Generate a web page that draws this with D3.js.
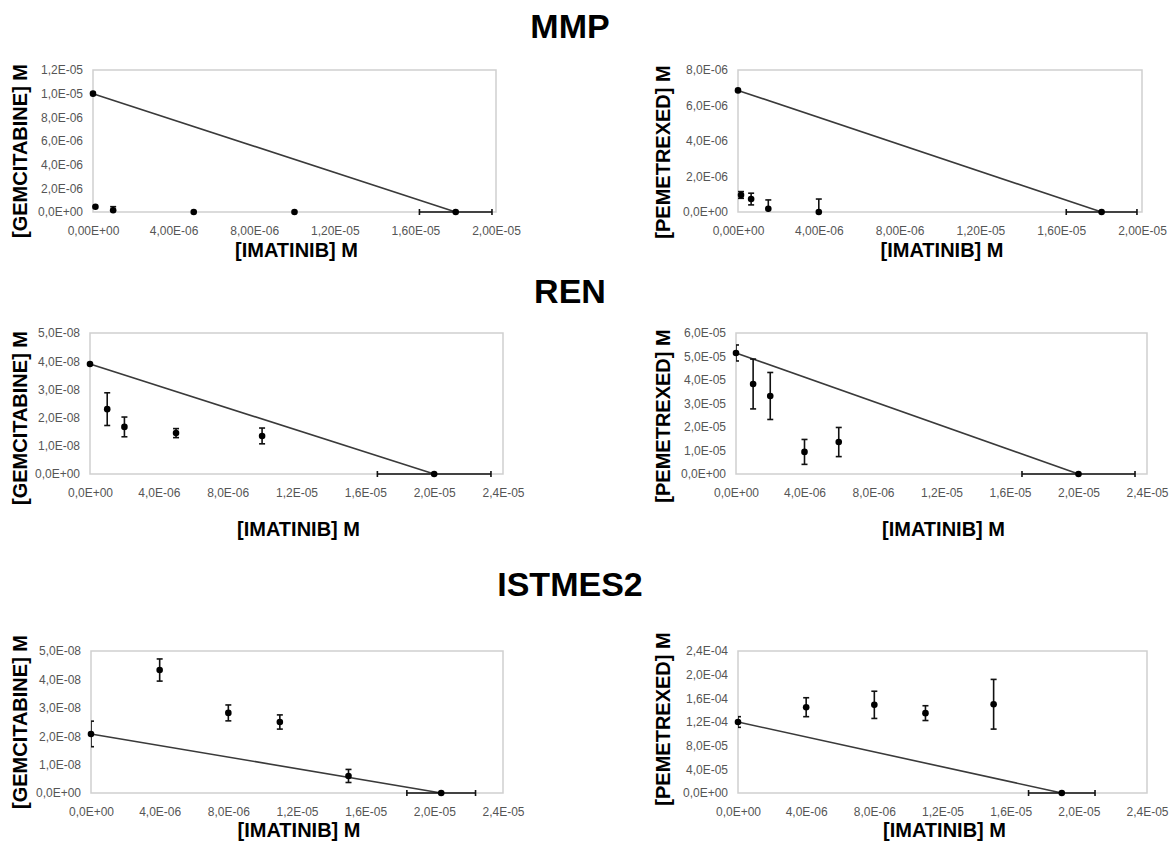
<!DOCTYPE html>
<html>
<head>
<meta charset="utf-8">
<script src="https://cdn.jsdelivr.net/npm/d3@7"></script>
<style>
  body { margin: 0; background: #fff; }
  text { font-family: Arial, "Liberation Sans", sans-serif; }
</style>
</head>
<body>
<div id="chart"></div>
<script>
// row titles
const rowTitles = ["MMP", "REN", "ISTMES2"];
const xTitle = "[IMATINIB] M";
const yTitleGem = "[GEMCITABINE] M";
const yTitlePem = "[PEMETREXED] M";

// x axis ticks
const xTicksMMP = [0, 4e-6, 8e-6, 1.2e-5, 1.6e-5, 2e-5];
const xLabelsMMP = ["0,00E+00", "4,00E-06", "8,00E-06", "1,20E-05", "1,60E-05", "2,00E-05"];
const xTicksWide = [0, 4e-6, 8e-6, 1.2e-5, 1.6e-5, 2e-5, 2.4e-5];
const xLabelsWide = ["0,0E+00", "4,0E-06", "8,0E-06", "1,2E-05", "1,6E-05", "2,0E-05", "2,4E-05"];

// MMP - gemcitabine
const mmpGemYTicks = [0, 2e-6, 4e-6, 6e-6, 8e-6, 1e-5, 1.2e-5];
const mmpGemYLabels = ["0,0E+00", "2,0E-06", "4,0E-06", "6,0E-06", "8,0E-06", "1,0E-05", "1,2E-05"];
const mmpGemX = [1.2e-7, 1e-6, 5e-6, 1e-5];
const mmpGemY = [4.5e-7, 1.5e-7, 0, 0];
const mmpGemErr = [0, 3e-7, 0, 0];
const mmpGemIsoX = [0, 1.8e-5], mmpGemIsoY = [1e-5, 0];
const mmpGemIsoXErr = [0, 1.8e-6], mmpGemIsoYErr = [0, 0];

// MMP - pemetrexed
const mmpPemYTicks = [0, 2e-6, 4e-6, 6e-6, 8e-6];
const mmpPemYLabels = ["0,0E+00", "2,0E-06", "4,0E-06", "6,0E-06", "8,0E-06"];
const mmpPemX = [1.5e-7, 6.5e-7, 1.5e-6, 4e-6];
const mmpPemY = [9.6e-7, 7.3e-7, 1.8e-7, 0];
const mmpPemErr = [1.9e-7, 3.3e-7, 5e-7, 7.3e-7];
const mmpPemIsoX = [0, 1.8e-5], mmpPemIsoY = [6.85e-6, 0];
const mmpPemIsoXErr = [0, 1.75e-6], mmpPemIsoYErr = [0, 0];

// REN - gemcitabine
const renGemYTicks = [0, 1e-8, 2e-8, 3e-8, 4e-8, 5e-8];
const renGemYLabels = ["0,0E+00", "1,0E-08", "2,0E-08", "3,0E-08", "4,0E-08", "5,0E-08"];
const renGemX = [1e-6, 2e-6, 5e-6, 1e-5];
const renGemY = [2.3e-8, 1.67e-8, 1.45e-8, 1.35e-8];
const renGemErr = [5.8e-9, 3.5e-9, 1.6e-9, 2.8e-9];
const renGemIsoX = [0, 2e-5], renGemIsoY = [3.9e-8, 0];
const renGemIsoXErr = [0, 3.3e-6], renGemIsoYErr = [0, 0];

// REN - pemetrexed
const renPemYTicks = [0, 1e-5, 2e-5, 3e-5, 4e-5, 5e-5, 6e-5];
const renPemYLabels = ["0,0E+00", "1,0E-05", "2,0E-05", "3,0E-05", "4,0E-05", "5,0E-05", "6,0E-05"];
const renPemX = [1e-6, 2e-6, 4e-6, 6e-6];
const renPemY = [3.83e-5, 3.32e-5, 9.4e-6, 1.36e-5];
const renPemErr = [1.06e-5, 1e-5, 5.3e-6, 6.2e-6];
const renPemIsoX = [0, 2e-5], renPemIsoY = [5.15e-5, 0];
const renPemIsoXErr = [0, 3.3e-6], renPemIsoYErr = [3.4e-6, 0];

// ISTMES2 - gemcitabine
const istGemYTicks = [0, 1e-8, 2e-8, 3e-8, 4e-8, 5e-8];
const istGemYLabels = ["0,0E+00", "1,0E-08", "2,0E-08", "3,0E-08", "4,0E-08", "5,0E-08"];
const istGemX = [4e-6, 8e-6, 1.1e-5, 1.5e-5];
const istGemY = [4.33e-8, 2.82e-8, 2.5e-8, 6e-9];
const istGemErr = [3.9e-9, 2.8e-9, 2.5e-9, 2.3e-9];
const istGemIsoX = [0, 2.04e-5], istGemIsoY = [2.08e-8, 0];
const istGemIsoXErr = [0, 2e-6], istGemIsoYErr = [4.5e-9, 0];

// ISTMES2 - pemetrexed
const istPemYTicks = [0, 4e-5, 8e-5, 1.2e-4, 1.6e-4, 2e-4, 2.4e-4];
const istPemYLabels = ["0,0E+00", "4,0E-05", "8,0E-05", "1,2E-04", "1,6E-04", "2,0E-04", "2,4E-04"];
const istPemX = [4e-6, 8e-6, 1.1e-5, 1.5e-5];
const istPemY = [1.45e-4, 1.49e-4, 1.35e-4, 1.5e-4];
const istPemErr = [1.6e-5, 2.3e-5, 1.25e-5, 4.2e-5];
const istPemIsoX = [0, 1.9e-5], istPemIsoY = [1.2e-4, 0];
const istPemIsoXErr = [0, 1.95e-6], istPemIsoYErr = [9e-6, 0];

// ---------------------------------------------------------------
const W = 1170, H = 850;

const svg = d3.select("#chart")
  .append("svg")
  .attr("width", W)
  .attr("height", H);

// row titles
const rowTitleY = [26, 291, 584];
svg.selectAll(".row-title")
  .data(rowTitles)
  .join("text")
  .attr("class", "row-title")
  .attr("x", 570)
  .attr("y", (d, i) => rowTitleY[i])
  .attr("dy", "0.35em")
  .attr("text-anchor", "middle")
  .style("font-size", "34px")
  .style("font-weight", "bold")
  .text(d => d);

// panel layout + data
const panels = [
  {box: [93, 496, 70, 212], xTitleY: 250, yTitle: yTitleGem, yTitleX: 20, yTitleY: 151,
   xMax: 2e-5, xTicks: xTicksMMP, xLabels: xLabelsMMP, yTicks: mmpGemYTicks, yLabels: mmpGemYLabels,
   px: mmpGemX, py: mmpGemY, pe: mmpGemErr, ix: mmpGemIsoX, iy: mmpGemIsoY, ixe: mmpGemIsoXErr, iye: mmpGemIsoYErr},
  {box: [738, 1142, 70, 212], xTitleY: 250, yTitle: yTitlePem, yTitleX: 663, yTitleY: 152,
   xMax: 2e-5, xTicks: xTicksMMP, xLabels: xLabelsMMP, yTicks: mmpPemYTicks, yLabels: mmpPemYLabels,
   px: mmpPemX, py: mmpPemY, pe: mmpPemErr, ix: mmpPemIsoX, iy: mmpPemIsoY, ixe: mmpPemIsoXErr, iye: mmpPemIsoYErr},
  {box: [90, 503, 333, 474], xTitleY: 529, yTitle: yTitleGem, yTitleX: 20, yTitleY: 418,
   xMax: 2.4e-5, xTicks: xTicksWide, xLabels: xLabelsWide, yTicks: renGemYTicks, yLabels: renGemYLabels,
   px: renGemX, py: renGemY, pe: renGemErr, ix: renGemIsoX, iy: renGemIsoY, ixe: renGemIsoXErr, iye: renGemIsoYErr},
  {box: [736, 1147, 333, 474], xTitleY: 529, yTitle: yTitlePem, yTitleX: 663, yTitleY: 416,
   xMax: 2.4e-5, xTicks: xTicksWide, xLabels: xLabelsWide, yTicks: renPemYTicks, yLabels: renPemYLabels,
   px: renPemX, py: renPemY, pe: renPemErr, ix: renPemIsoX, iy: renPemIsoY, ixe: renPemIsoXErr, iye: renPemIsoYErr},
  {box: [91, 503, 651, 793], xTitleY: 830, yTitle: yTitleGem, yTitleX: 20, yTitleY: 722,
   xMax: 2.4e-5, xTicks: xTicksWide, xLabels: xLabelsWide, yTicks: istGemYTicks, yLabels: istGemYLabels,
   px: istGemX, py: istGemY, pe: istGemErr, ix: istGemIsoX, iy: istGemIsoY, ixe: istGemIsoXErr, iye: istGemIsoYErr},
  {box: [738, 1147, 651, 793], xTitleY: 830, yTitle: yTitlePem, yTitleX: 663, yTitleY: 719,
   xMax: 2.4e-5, xTicks: xTicksWide, xLabels: xLabelsWide, yTicks: istPemYTicks, yLabels: istPemYLabels,
   px: istPemX, py: istPemY, pe: istPemErr, ix: istPemIsoX, iy: istPemIsoY, ixe: istPemIsoXErr, iye: istPemIsoYErr}
];

const capW = 3;

panels.forEach((p, k) => {
  const [x0, x1, y0, y1] = p.box;
  const yMax = p.yTicks[p.yTicks.length - 1];

  const x = d3.scaleLinear().domain([0, p.xMax]).range([x0, x1]);
  const y = d3.scaleLinear().domain([0, yMax]).range([y1, y0]);

  const g = svg.append("g");

  // clip for error bars
  g.append("clipPath")
    .attr("id", `clip-${k}`)
    .append("rect")
    .attr("x", x0).attr("y", y0)
    .attr("width", x1 - x0).attr("height", y1 - y0);

  // plot frame
  g.append("rect")
    .attr("x", x0).attr("y", y0)
    .attr("width", x1 - x0).attr("height", y1 - y0)
    .attr("fill", "none")
    .attr("stroke", "#cfcfcf")
    .attr("stroke-width", 1.5);

  // x axis
  const xAxis = g.append("g")
    .attr("transform", `translate(0,${y1})`)
    .call(d3.axisBottom(x)
      .tickValues(p.xTicks)
      .tickSize(0)
      .tickPadding(14)
      .tickFormat((d, i) => p.xLabels[i]));
  xAxis.select(".domain").remove();
  xAxis.selectAll("text")
    .attr("fill", "#555")
    .style("font-size", "12px")
    .style("font-family", "Arial, 'Liberation Sans', sans-serif");

  // y axis
  const yAxis = g.append("g")
    .attr("transform", `translate(${x0},0)`)
    .call(d3.axisLeft(y)
      .tickValues(p.yTicks)
      .tickSize(0)
      .tickPadding(10)
      .tickFormat((d, i) => p.yLabels[i]));
  yAxis.select(".domain").remove();
  yAxis.selectAll("text")
    .attr("fill", "#555")
    .style("font-size", "12px")
    .style("font-family", "Arial, 'Liberation Sans', sans-serif");

  // axis titles
  g.append("text")
    .attr("x", (x0 + x1) / 2 + 2)
    .attr("y", p.xTitleY)
    .attr("dy", "0.35em")
    .attr("text-anchor", "middle")
    .style("font-size", "20px")
    .style("font-weight", "bold")
    .text(xTitle);

  g.append("text")
    .attr("transform", `translate(${p.yTitleX},${p.yTitleY}) rotate(-90)`)
    .attr("dy", "0.35em")
    .attr("text-anchor", "middle")
    .style("font-size", "20px")
    .style("font-weight", "bold")
    .text(p.yTitle);

  // isobole line
  const iso = p.ix.map((v, i) => ({x: v, y: p.iy[i], xe: p.ixe[i], ye: p.iye[i]}));
  const line = d3.line().x(d => x(d.x)).y(d => y(d.y));
  g.append("path")
    .datum(iso)
    .attr("d", line)
    .attr("fill", "none")
    .attr("stroke", "#3a3a3a")
    .attr("stroke-width", 1.6);

  const pts = p.px.map((v, i) => ({x: v, y: p.py[i], xe: 0, ye: p.pe[i]}));
  const all = iso.concat(pts);

  const bars = g.append("g").attr("clip-path", `url(#clip-${k})`)
    .attr("stroke", "#111")
    .attr("stroke-width", 1.6);

  // vertical error bars
  all.filter(d => d.ye > 0).forEach(d => {
    const cx = x(d.x), ya = y(d.y + d.ye), yb = y(d.y - d.ye);
    bars.append("line").attr("x1", cx).attr("x2", cx).attr("y1", ya).attr("y2", yb);
    bars.append("line").attr("x1", cx - capW).attr("x2", cx + capW).attr("y1", ya).attr("y2", ya);
    bars.append("line").attr("x1", cx - capW).attr("x2", cx + capW).attr("y1", yb).attr("y2", yb);
  });

  // horizontal error bars (unclipped, on the axis)
  const hbars = g.append("g").attr("stroke", "#111").attr("stroke-width", 1.6);
  all.filter(d => d.xe > 0).forEach(d => {
    const cy = y(d.y), xa = x(d.x - d.xe), xb = x(d.x + d.xe);
    hbars.append("line").attr("x1", xa).attr("x2", xb).attr("y1", cy).attr("y2", cy);
    hbars.append("line").attr("x1", xa).attr("x2", xa).attr("y1", cy - capW).attr("y2", cy + capW);
    hbars.append("line").attr("x1", xb).attr("x2", xb).attr("y1", cy - capW).attr("y2", cy + capW);
  });

  // markers
  g.selectAll(".dot")
    .data(all)
    .join("circle")
    .attr("class", "dot")
    .attr("cx", d => x(d.x))
    .attr("cy", d => y(d.y))
    .attr("r", 3.3)
    .attr("fill", "#000");
});
</script>
</body>
</html>
